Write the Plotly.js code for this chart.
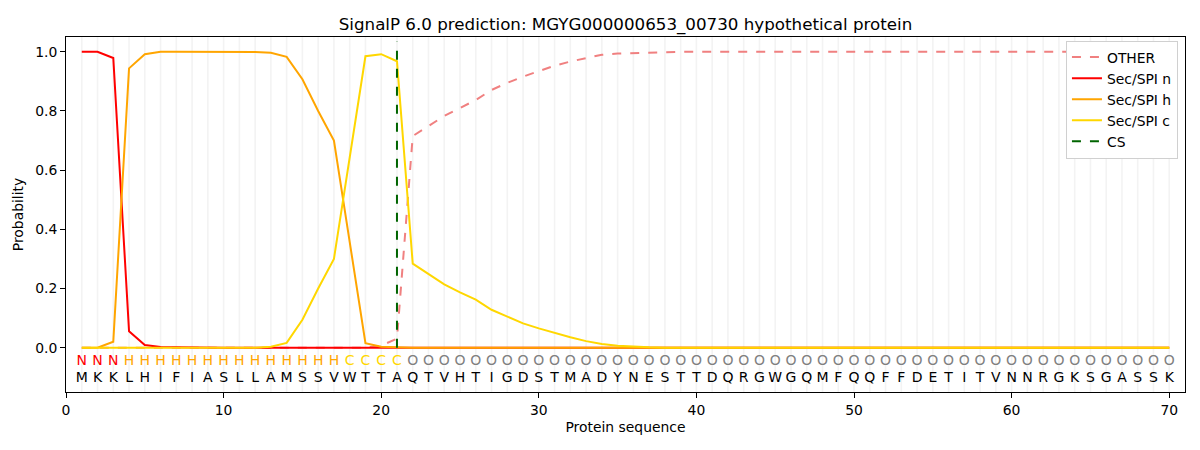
<!DOCTYPE html>
<html>
<head>
<meta charset="utf-8">
<script src="https://cdn.plot.ly/plotly-3.0.1.min.js"></script>
<style>html,body{margin:0;padding:0;background:#fff;}#chart{width:1200px;height:450px;}</style>
</head>
<body>
<div id="chart"></div>
<script>
// ---- data ----
const sequence = "MKKLHIFIASLLAMSSVWTTAQTVHTIGDSTMADYNESTTDQRGWGQMFQQFFDETITVNNRGKSGASSK".split("");
const regionLabels = "NNNHHHHHHHHHHHHHHCCCCOOOOOOOOOOOOOOOOOOOOOOOOOOOOOOOOOOOOOOOOOOOOOOOOO".split("");
const positions = sequence.map((_, i) => i + 1);
const csPosition = 21;

const probOther = [0,0,0,0,0,0,0,0,0,0, 0,0,0,0,0,0,0,0,0,0.007,
  0.03,0.715,0.75,0.783,0.81,0.837,0.871,0.895,0.916,0.935,
  0.953,0.967,0.979,0.99,0.994,0.996,0.998,0.999,1,1,
  1,1,1,1,1,1,1,1,1,1, 1,1,1,1,1,1,1,1,1,1, 1,1,1,1,1,1,1,1,1,1];
const probN = [1.0,1.0,0.979,0.055,0.009,0.002,0.001,0,0,0, 0,0,0,0,0,0,0,0,0,0,
  0,0,0,0,0,0,0,0,0,0, 0,0,0,0,0,0,0,0,0,0, 0,0,0,0,0,0,0,0,0,0,
  0,0,0,0,0,0,0,0,0,0, 0,0,0,0,0,0,0,0,0,0];
const probH = [0,0,0.02,0.944,0.992,1.0,1.0,1.0,1.0,1.0, 1.0,0.999,0.997,0.983,0.907,0.80,0.70,0.35,0.015,0.003,
  0.001,0,0,0,0,0,0,0,0,0, 0,0,0,0,0,0,0,0,0,0, 0,0,0,0,0,0,0,0,0,0,
  0,0,0,0,0,0,0,0,0,0, 0,0,0,0,0,0,0,0,0,0];
const probC = [0,0,0,0,0,0,0,0,0,0, 0,0,0.003,0.016,0.094,0.20,0.30,0.64,0.985,0.992,
  0.968,0.284,0.25,0.214,0.187,0.162,0.128,0.105,0.082,0.065,
  0.049,0.035,0.022,0.012,0.006,0.003,0.001,0,0,0, 0,0,0,0,0,0,0,0,0,0,
  0,0,0,0,0,0,0,0,0,0, 0,0,0,0,0,0,0,0,0,0];
const csSpan = [0, 1.035];

const xTicks = [0,10,20,30,40,50,60,70];
const yTicks = [0.0,0.2,0.4,0.6,0.8,1.0];
const yTickText = ["0.0","0.2","0.4","0.6","0.8","1.0"];

// ---- styles ----
const regionColor = {N:"#ff0000", H:"#ffa500", C:"#ffd700", O:"#808080"};
const FONT = "DejaVu Sans, sans-serif";

const traces = [
  {x: positions, y: probOther, name: "OTHER", mode: "lines", line: {color: "#f08080", width: 2, dash: "dash"}},
  {x: positions, y: probN, name: "Sec/SPI n", mode: "lines", line: {color: "#ff0000", width: 2}},
  {x: positions, y: probH, name: "Sec/SPI h", mode: "lines", line: {color: "#ffa500", width: 2}},
  {x: positions, y: probC, name: "Sec/SPI c", mode: "lines", line: {color: "#ffd700", width: 2}},
  {x: [csPosition, csPosition], y: csSpan, name: "CS", mode: "lines", line: {color: "#006400", width: 2, dash: "dash"}},
  {x: positions, y: positions.map(() => -0.047), mode: "text", text: regionLabels, showlegend: false, hoverinfo: "skip",
   cliponaxis: false, textfont: {family: FONT, size: 14, color: regionLabels.map(l => regionColor[l])}},
  {x: positions, y: positions.map(() => -0.103), mode: "text", text: sequence, showlegend: false, hoverinfo: "skip",
   cliponaxis: false, textfont: {family: FONT, size: 14, color: "#000000"}}
];

const gridShapes = positions.map(p => ({
  type: "line", xref: "x", yref: "paper", x0: p, x1: p, y0: 0, y1: 1,
  line: {color: "#f3f3f3", width: 1.6}, layer: "below"
}));

const layout = {
  width: 1200, height: 450,
  margin: {l: 66, r: 15, t: 37, b: 58},
  paper_bgcolor: "#fff", plot_bgcolor: "#fff",
  font: {family: FONT, size: 14, color: "#000"},
  title: {text: "SignalP 6.0 prediction: MGYG000000653_00730 hypothetical protein",
          font: {family: FONT, size: 16.7, color: "#000"}, x: 0.5, xref: "paper", xanchor: "center", y: 0.947, yanchor: "middle"},
  xaxis: {range: [0, 71], tickvals: xTicks, ticktext: xTicks.map(String), ticks: "outside", ticklen: 5, tickcolor: "#000",
          showgrid: false, zeroline: false, showline: true, linecolor: "#000", linewidth: 1, mirror: true,
          title: {text: "Protein sequence", font: {family: FONT, size: 13.9}, standoff: 5}, tickfont: {family: FONT, size: 13.9}},
  yaxis: {range: [-0.15, 1.05], tickvals: yTicks, ticktext: yTickText, ticks: "outside", ticklen: 5, tickcolor: "#000",
          showgrid: false, zeroline: false, showline: true, linecolor: "#000", linewidth: 1, mirror: true,
          title: {text: "Probability", font: {family: FONT, size: 13.9}, standoff: 8}, tickfont: {family: FONT, size: 13.9}},
  legend: {x: 0.9937, y: 0.99, xanchor: "right", yanchor: "top", bgcolor: "#ffffff",
           bordercolor: "#d0d0d0", borderwidth: 1, font: {family: FONT, size: 13.9}, tracegroupgap: 0},
  shapes: gridShapes,
  showlegend: true
};

Plotly.newPlot("chart", traces, layout, {displayModeBar: false, staticPlot: true});
</script>
</body>
</html>
